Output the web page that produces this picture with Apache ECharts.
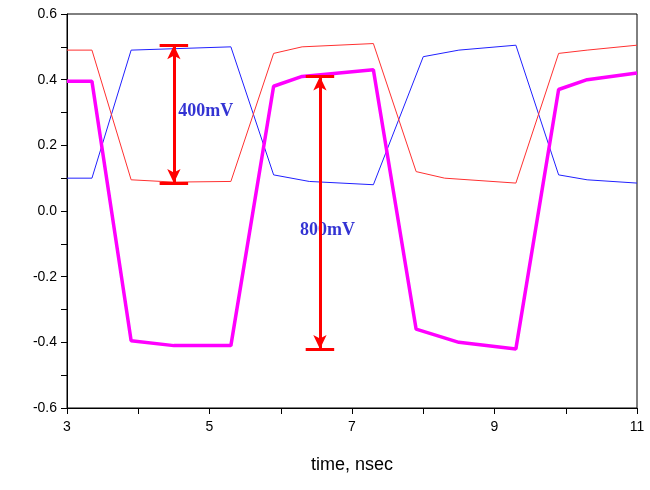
<!DOCTYPE html><html><head><meta charset="utf-8"><script src="https://cdn.jsdelivr.net/npm/echarts@6/dist/echarts.min.js"></script></head><body style="margin:0;background:#fff"><div id="c" style="width:650px;height:490px"></div><script>
const blue=[[3,0.1],[3.35,0.1],[3.9,0.49],[5.3,0.50],[5.9,0.11],[6.4,0.09],[7.3,0.08],[8,0.47],[8.5,0.49],[9.3,0.505],[9.9,0.11],[10.3,0.095],[11,0.085]];
const red=[[3,0.49],[3.35,0.49],[3.9,0.095],[4.5,0.088],[5.3,0.09],[5.9,0.48],[6.3,0.50],[7.3,0.51],[7.9,0.12],[8.3,0.10],[9.3,0.085],[9.9,0.48],[10.3,0.49],[11,0.505]];
const mag=[[3,0.395],[3.35,0.395],[3.9,-0.395],[4.5,-0.41],[5.3,-0.41],[5.9,0.38],[6.3,0.41],[7.3,0.43],[7.9,-0.36],[8.5,-0.40],[9.3,-0.42],[9.9,0.37],[10.3,0.40],[11,0.42]];
const arrows=[[4.5,0.085,0.505],[6.55,-0.42,0.41]];
const labels=[[4.56,0.305,'400mV'],[6.27,-0.058,'800mV']];
const ch=echarts.init(document.getElementById('c'));
const ml=[];
arrows.forEach(a=>{
 ml.push([{coord:[a[0],a[1]],symbol:'arrow'},{coord:[a[0],a[2]],symbol:'arrow'}]);
 ml.push([{coord:[a[0]-0.2,a[1]],symbol:'none'},{coord:[a[0]+0.2,a[1]],symbol:'none'}]);
 ml.push([{coord:[a[0]-0.2,a[2]],symbol:'none'},{coord:[a[0]+0.2,a[2]],symbol:'none'}]);
});
ch.setOption({animation:false,
grid:{left:67,right:13,top:14,bottom:82,show:true,borderColor:'#000',borderWidth:1},
xAxis:{type:'value',min:3,max:11,interval:1,name:'time, nsec',nameLocation:'middle',nameGap:48,nameTextStyle:{fontSize:18,color:'#000',fontFamily:'Arial'},
 axisLine:{onZero:false,lineStyle:{color:'#000'}},axisTick:{inside:false,length:6,lineStyle:{color:'#000'}},splitLine:{show:false},
 axisLabel:{color:'#000',fontSize:14,fontFamily:'Arial',margin:12,formatter:v=>(v%2===1?v:'')}},
yAxis:{type:'value',min:-0.6,max:0.6,interval:0.1,axisLine:{lineStyle:{color:'#000'}},axisTick:{inside:false,length:6,lineStyle:{color:'#000'}},splitLine:{show:false},
 axisLabel:{color:'#000',fontSize:14,fontFamily:'Arial',margin:10,formatter:v=>{const k=Math.round(v*10);return k%2===0?(k/10).toFixed(1):'';}}},
series:[
{type:'line',data:blue,symbol:'none',lineStyle:{color:'#2020ff',width:1}},
{type:'line',data:red,symbol:'none',lineStyle:{color:'#ff3030',width:1}},
{type:'line',data:mag,symbol:'none',lineStyle:{color:'#ff00ff',width:3.5},
 markLine:{silent:true,symbolSize:[10,14],label:{show:false},lineStyle:{color:'#ff0000',width:3,type:'solid'},data:ml}},
{type:'scatter',data:labels.map(l=>[l[0],l[1],l[2]]),symbolSize:0,
 label:{show:true,position:'inside',align:'left',verticalAlign:'middle',formatter:p=>p.data[2],color:'#0000c8',fontWeight:'bold',fontSize:18,fontFamily:'Liberation Serif'}}
]});
</script></body></html>
